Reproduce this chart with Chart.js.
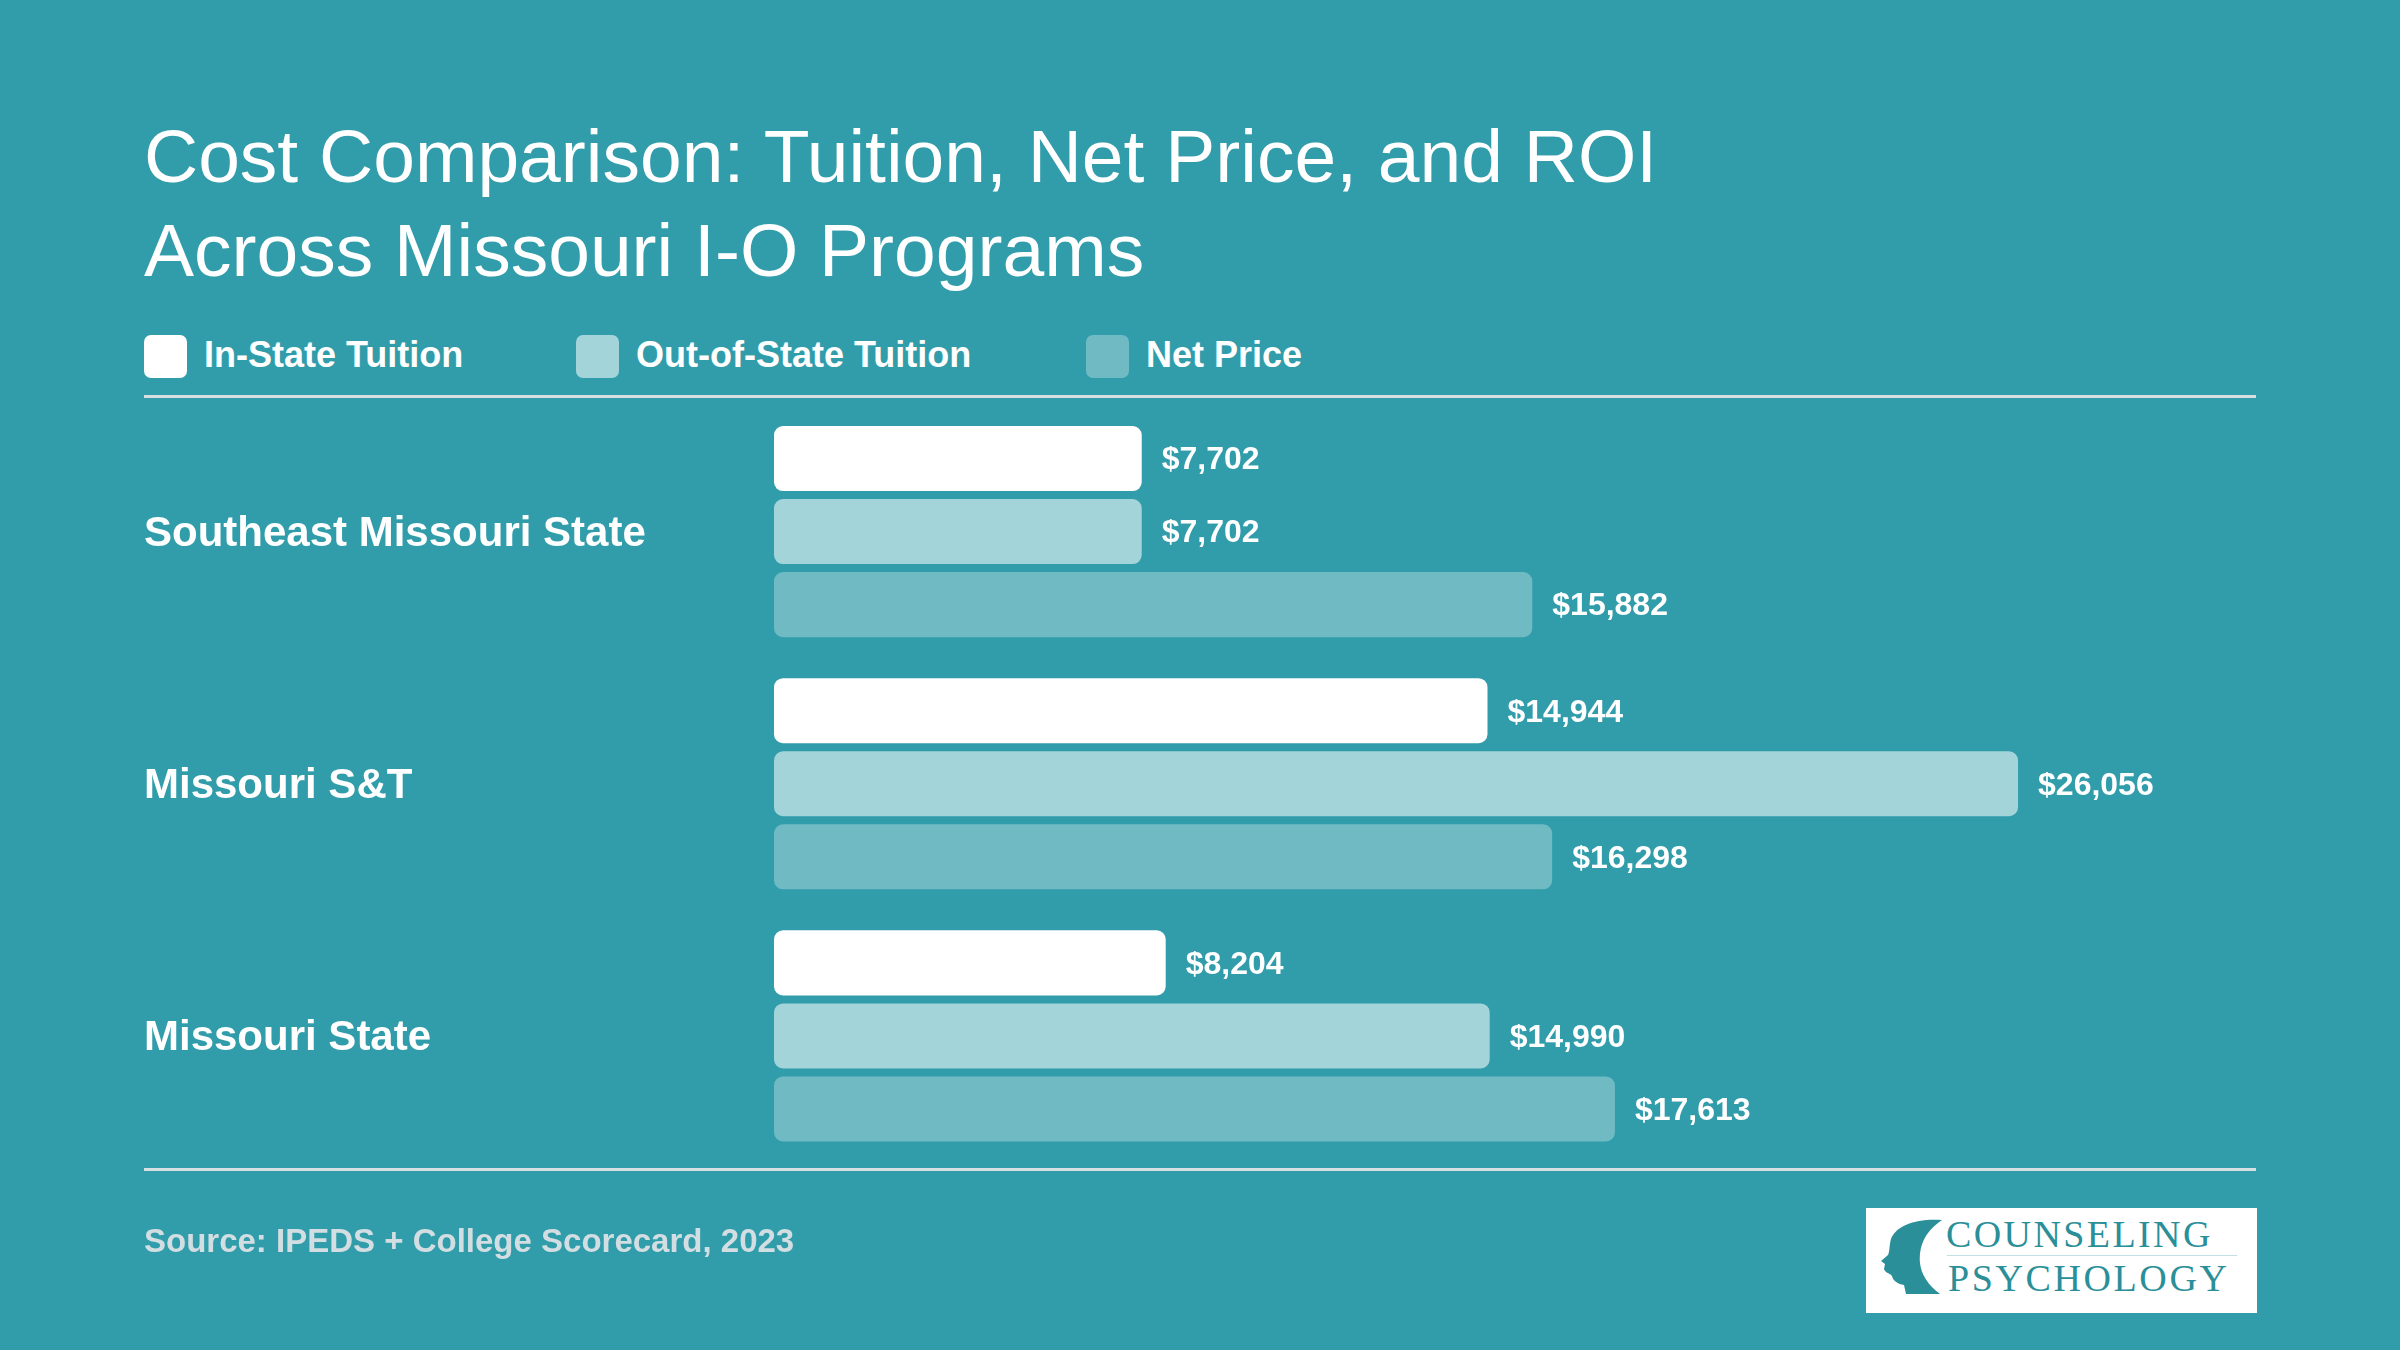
<!DOCTYPE html>
<html>
<head>
<meta charset="utf-8">
<script src="https://cdn.jsdelivr.net/npm/chart.js@4.4.1/dist/chart.umd.min.js"></script>
<style>
  html, body { margin: 0; padding: 0; }
  body { width: 2400px; height: 1350px; background: #319dab; position: relative; overflow: hidden;
         font-family: "Liberation Sans", Arial, sans-serif; color: #fff; }
  #chart { position: absolute; left: 0; top: 0; }
  .title { position: absolute; left: 144px; top: 109px; font-size: 75px; line-height: 94px; font-weight: 400; margin: 0; }
  .legend { position: absolute; top: 335px; left: 0; height: 43px; }
  .legend .sw { position: absolute; top: 0; width: 43px; height: 43px; border-radius: 7px; }
  .legend .lb { position: absolute; top: -2px; font-size: 36px; font-weight: 700; line-height: 43px; white-space: nowrap; }
  .rule { position: absolute; left: 144px; width: 2112px; height: 3px; background: #d6dfe2; }
  .source { position: absolute; left: 144px; top: 1222px; font-size: 33px; font-weight: 700; color: #d3dee2; }
  .logo { position: absolute; left: 1866px; top: 1208px; width: 391px; height: 105px; background: #fff; }
  .logo .word { position: absolute; font-family: "Liberation Serif", "DejaVu Serif", serif; color: #2a8f99;
                font-size: 38px; line-height: 38px; white-space: nowrap; }
  .logo .bar { position: absolute; left: 81px; top: 47px; width: 290px; height: 1px; background: #bfe0e4; }
</style>
</head>
<body>
<h1 class="title">Cost Comparison: Tuition, Net Price, and ROI<br>Across Missouri I-O Programs</h1>

<div class="legend">
  <div class="sw" style="left:144px;background:#ffffff"></div>
  <div class="lb" style="left:204px">In-State Tuition</div>
  <div class="sw" style="left:576px;background:#a3d4d9"></div>
  <div class="lb" style="left:636px">Out-of-State Tuition</div>
  <div class="sw" style="left:1086px;background:#70bac4"></div>
  <div class="lb" style="left:1146px">Net Price</div>
</div>
<div class="rule" style="top:395px"></div>
<div class="rule" style="top:1168px"></div>

<canvas id="chart" width="2400" height="1350"></canvas>

<div class="source">Source: IPEDS + College Scorecard, 2023</div>
<div class="logo">
  <svg width="80" height="105" style="position:absolute;left:0;top:0">
    <path d="M76 12 C52 10 30 17 25 31 C23 38 24 43 22 47 L15 53 L19 56 L18 61 C19 65 24 65 26 68 C27 73 32 76 38 77 L40 86 L74 86 C62 77 55 66 54 55 C53 40 57 25 76 12 Z" fill="#2a8f99"/>
  </svg>
  <div class="word" style="left:80px;top:7px;letter-spacing:2.4px">COUNSELING</div>
  <div class="bar"></div>
  <div class="word" style="left:82px;top:51px;letter-spacing:2.6px">PSYCHOLOGY</div>
</div>

<script>
const programs = ['Southeast Missouri State', 'Missouri S&T', 'Missouri State'];
const seriesNames = ['In-State Tuition', 'Out-of-State Tuition', 'Net Price'];
const inState = [7702, 14944, 8204];
const outState = [7702, 26056, 14990];
const netPrice = [15882, 16298, 17613];
const colors = ['#ffffff', '#a3d4d9', '#70bac4'];

// value labels to the right of each bar
const valueLabels = {
  id: 'valueLabels',
  afterDatasetsDraw(chart) {
    const ctx = chart.ctx;
    ctx.save();
    ctx.font = 'bold 32px "Liberation Sans", Arial, sans-serif';
    ctx.fillStyle = '#ffffff';
    ctx.textAlign = 'left';
    ctx.textBaseline = 'middle';
    chart.data.datasets.forEach((ds, i) => {
      chart.getDatasetMeta(i).data.forEach((bar, j) => {
        ctx.fillText('$' + ds.data[j].toLocaleString('en-US'), bar.x + 20, bar.y + 2);
      });
    });
    ctx.restore();
  }
};

const data = {
  labels: programs,
  datasets: [
    { label: seriesNames[0], data: inState, backgroundColor: colors[0] },
    { label: seriesNames[1], data: outState, backgroundColor: colors[1] },
    { label: seriesNames[2], data: netPrice, backgroundColor: colors[2] }
  ].map(d => Object.assign(d, {
    borderRadius: 9,
    borderSkipped: false,
    categoryPercentage: 0.869,
    barPercentage: 0.89
  }))
};

const config = {
  type: 'bar',
  data: data,
  options: {
    indexAxis: 'y',
    responsive: false,
    animation: false,
    devicePixelRatio: 1,
    layout: { padding: { left: 144, right: 144, top: 405.5, bottom: 188 } },
    scales: {
      x: { display: false, min: 0, max: 31040 },
      y: {
        grid: { display: false },
        border: { display: false },
        afterFit(scale) { scale.width = 630; },
        ticks: {
          crossAlign: 'far',
          padding: 0,
          labelOffset: 3,
          color: '#ffffff',
          font: { family: '"Liberation Sans", Arial, sans-serif', size: 42, weight: 'bold', lineHeight: 1.4 }
        }
      }
    },
    plugins: {
      legend: { display: false },
      tooltip: { enabled: false }
    }
  },
  plugins: [valueLabels]
};

const myChart = new Chart(document.getElementById('chart'), config);
</script>
</body>
</html>
